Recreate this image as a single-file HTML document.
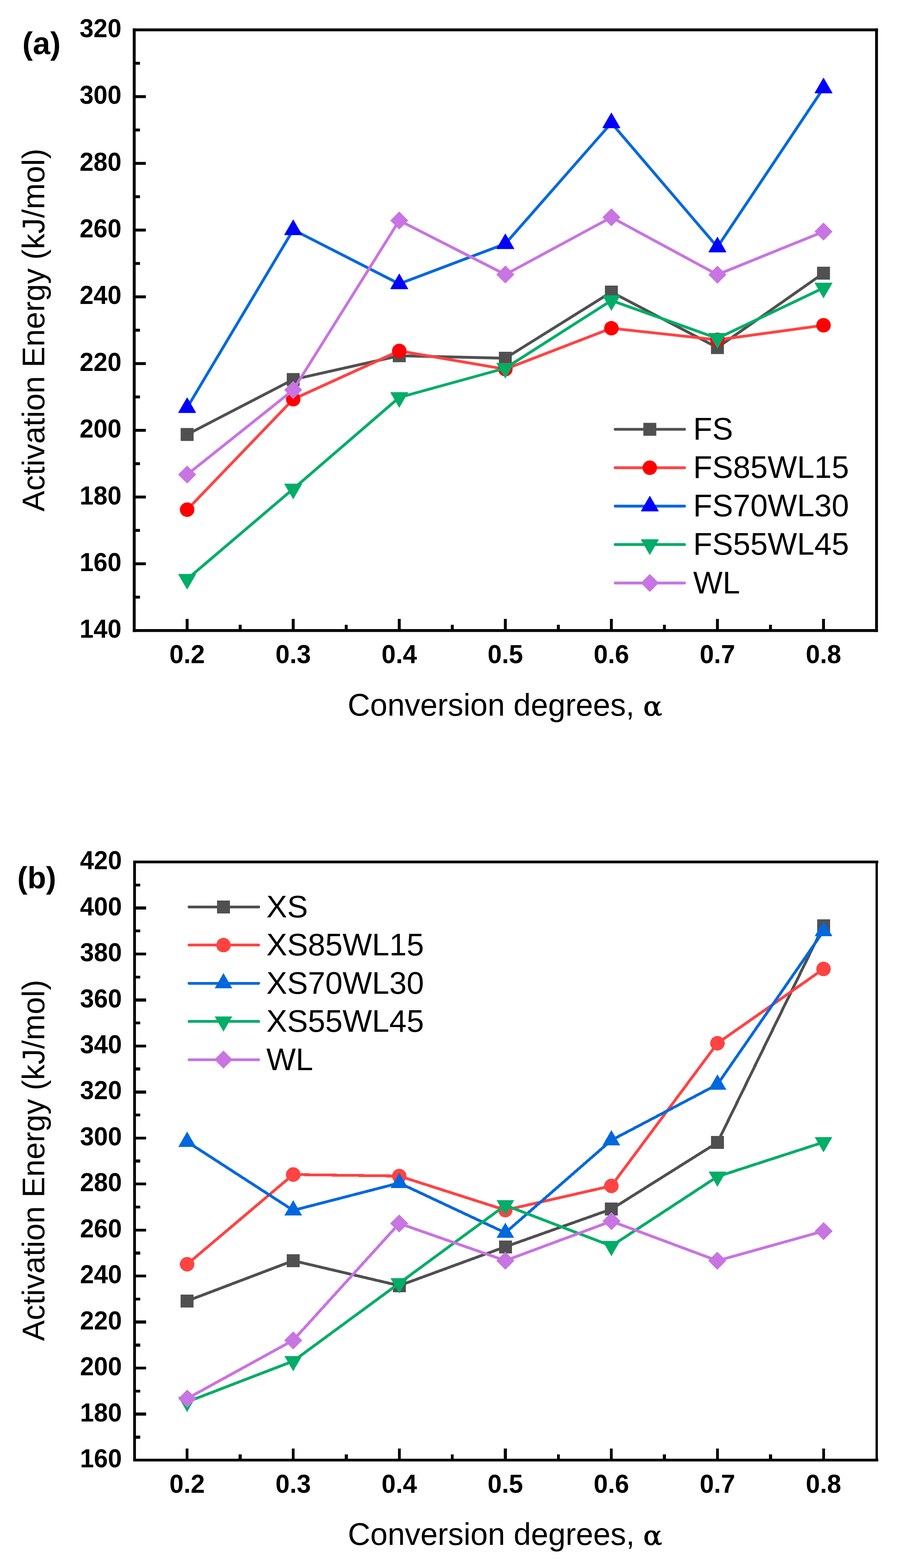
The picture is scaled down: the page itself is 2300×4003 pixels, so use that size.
<!DOCTYPE html>
<html><head><meta charset="utf-8"><title>Activation Energy</title>
<style>html,body{margin:0;padding:0;background:#fff;} svg{display:block;}</style>
</head><body>
<svg width="2300" height="4003" viewBox="0 0 2300 4003">
<rect width="2300" height="4003" fill="#fff"/>
<g><g>
<polyline points="477.7,1109.2 748.5,968.9 1019.2,908.2 1290.0,914.5 1560.7,745.6 1831.4,887.4 2102.2,697.4" fill="none" stroke="#505050" stroke-width="7.2" stroke-linejoin="round" stroke-linecap="round"/>
<rect x="461.2" y="1092.7" width="33" height="33" fill="#505050"/>
<rect x="732.0" y="952.4" width="33" height="33" fill="#505050"/>
<rect x="1002.7" y="891.7" width="33" height="33" fill="#505050"/>
<rect x="1273.5" y="898.0" width="33" height="33" fill="#505050"/>
<rect x="1544.2" y="729.1" width="33" height="33" fill="#505050"/>
<rect x="1814.9" y="870.9" width="33" height="33" fill="#505050"/>
<rect x="2085.7" y="680.9" width="33" height="33" fill="#505050"/>
<polyline points="477.7,1301.2 748.5,1019.2 1019.2,895.9 1290.0,942.4 1560.7,838.0 1831.4,867.6 2102.2,830.4" fill="none" stroke="#FF4343" stroke-width="7.2" stroke-linejoin="round" stroke-linecap="round"/>
<circle cx="477.7" cy="1301.2" r="18.5" fill="#FF0000"/>
<circle cx="748.5" cy="1019.2" r="18.5" fill="#FF0000"/>
<circle cx="1019.2" cy="895.9" r="18.5" fill="#FF0000"/>
<circle cx="1290.0" cy="942.4" r="18.5" fill="#FF0000"/>
<circle cx="1560.7" cy="838.0" r="18.5" fill="#FF0000"/>
<circle cx="1831.4" cy="867.6" r="18.5" fill="#FF0000"/>
<circle cx="2102.2" cy="830.4" r="18.5" fill="#FF0000"/>
<polyline points="477.7,1040.9 748.5,586.7 1019.2,724.7 1290.0,622.4 1560.7,313.8 1831.4,630.7 2102.2,224.8" fill="none" stroke="#0068DE" stroke-width="7.2" stroke-linejoin="round" stroke-linecap="round"/>
<polygon points="477.7,1015.6 499.7,1053.6 455.7,1053.6" fill="#0000FF" stroke="#0000FF" stroke-width="1.5" stroke-linejoin="round"/>
<polygon points="748.5,561.4 770.5,599.4 726.5,599.4" fill="#0000FF" stroke="#0000FF" stroke-width="1.5" stroke-linejoin="round"/>
<polygon points="1019.2,699.4 1041.2,737.4 997.2,737.4" fill="#0000FF" stroke="#0000FF" stroke-width="1.5" stroke-linejoin="round"/>
<polygon points="1290.0,597.1 1312.0,635.1 1268.0,635.1" fill="#0000FF" stroke="#0000FF" stroke-width="1.5" stroke-linejoin="round"/>
<polygon points="1560.7,288.5 1582.7,326.5 1538.7,326.5" fill="#0000FF" stroke="#0000FF" stroke-width="1.5" stroke-linejoin="round"/>
<polygon points="1831.4,605.4 1853.4,643.4 1809.4,643.4" fill="#0000FF" stroke="#0000FF" stroke-width="1.5" stroke-linejoin="round"/>
<polygon points="2102.2,199.5 2124.2,237.5 2080.2,237.5" fill="#0000FF" stroke="#0000FF" stroke-width="1.5" stroke-linejoin="round"/>
<polyline points="477.7,1478.6 748.5,1248.1 1019.2,1014.6 1290.0,939.9 1560.7,767.1 1831.4,863.8 2102.2,735.1" fill="none" stroke="#00AD68" stroke-width="7.2" stroke-linejoin="round" stroke-linecap="round"/>
<polygon points="477.7,1503.9 499.7,1465.9 455.7,1465.9" fill="#00AD68" stroke="#00AD68" stroke-width="1.5" stroke-linejoin="round"/>
<polygon points="748.5,1273.4 770.5,1235.4 726.5,1235.4" fill="#00AD68" stroke="#00AD68" stroke-width="1.5" stroke-linejoin="round"/>
<polygon points="1019.2,1039.9 1041.2,1001.9 997.2,1001.9" fill="#00AD68" stroke="#00AD68" stroke-width="1.5" stroke-linejoin="round"/>
<polygon points="1290.0,965.2 1312.0,927.2 1268.0,927.2" fill="#00AD68" stroke="#00AD68" stroke-width="1.5" stroke-linejoin="round"/>
<polygon points="1560.7,792.4 1582.7,754.4 1538.7,754.4" fill="#00AD68" stroke="#00AD68" stroke-width="1.5" stroke-linejoin="round"/>
<polygon points="1831.4,889.1 1853.4,851.1 1809.4,851.1" fill="#00AD68" stroke="#00AD68" stroke-width="1.5" stroke-linejoin="round"/>
<polygon points="2102.2,760.4 2124.2,722.4 2080.2,722.4" fill="#00AD68" stroke="#00AD68" stroke-width="1.5" stroke-linejoin="round"/>
<polyline points="477.7,1211.5 748.5,995.6 1019.2,562.9 1290.0,700.8 1560.7,554.8 1831.4,701.2 2102.2,591.3" fill="none" stroke="#C874E2" stroke-width="7.2" stroke-linejoin="round" stroke-linecap="round"/>
<polygon points="477.7,1188.5 500.7,1211.5 477.7,1234.5 454.7,1211.5" fill="#C874E2"/>
<polygon points="748.5,972.6 771.5,995.6 748.5,1018.6 725.5,995.6" fill="#C874E2"/>
<polygon points="1019.2,539.9 1042.2,562.9 1019.2,585.9 996.2,562.9" fill="#C874E2"/>
<polygon points="1290.0,677.8 1313.0,700.8 1290.0,723.8 1267.0,700.8" fill="#C874E2"/>
<polygon points="1560.7,531.8 1583.7,554.8 1560.7,577.8 1537.7,554.8" fill="#C874E2"/>
<polygon points="1831.4,678.2 1854.4,701.2 1831.4,724.2 1808.4,701.2" fill="#C874E2"/>
<polygon points="2102.2,568.3 2125.2,591.3 2102.2,614.3 2079.2,591.3" fill="#C874E2"/>
</g>
<g fill="#000">
<rect x="338.9" y="72.6" width="7.4" height="1540.8"/>
<rect x="2233.9" y="72.6" width="7.3" height="1540.8"/>
<rect x="338.9" y="72.6" width="1902.3" height="7.3"/>
<rect x="338.9" y="1606.0" width="1902.3" height="7.4"/>
</g>
<g>
<text transform="translate(310,1628.3) scale(0.955,1)" text-anchor="end" font-family="'Liberation Sans', Arial, sans-serif" font-weight="bold" font-size="67">140</text>
<line x1="342.6" y1="1524.5" x2="357.3" y2="1524.5" stroke="#000" stroke-width="7.4"/>
<line x1="342.6" y1="1439.3" x2="372.3" y2="1439.3" stroke="#000" stroke-width="7.4"/>
<text transform="translate(310,1457.9) scale(0.955,1)" text-anchor="end" font-family="'Liberation Sans', Arial, sans-serif" font-weight="bold" font-size="67">160</text>
<line x1="342.6" y1="1354.1" x2="357.3" y2="1354.1" stroke="#000" stroke-width="7.4"/>
<line x1="342.6" y1="1268.9" x2="372.3" y2="1268.9" stroke="#000" stroke-width="7.4"/>
<text transform="translate(310,1287.5) scale(0.955,1)" text-anchor="end" font-family="'Liberation Sans', Arial, sans-serif" font-weight="bold" font-size="67">180</text>
<line x1="342.6" y1="1183.8" x2="357.3" y2="1183.8" stroke="#000" stroke-width="7.4"/>
<line x1="342.6" y1="1098.6" x2="372.3" y2="1098.6" stroke="#000" stroke-width="7.4"/>
<text transform="translate(310,1117.2) scale(0.955,1)" text-anchor="end" font-family="'Liberation Sans', Arial, sans-serif" font-weight="bold" font-size="67">200</text>
<line x1="342.6" y1="1013.4" x2="357.3" y2="1013.4" stroke="#000" stroke-width="7.4"/>
<line x1="342.6" y1="928.2" x2="372.3" y2="928.2" stroke="#000" stroke-width="7.4"/>
<text transform="translate(310,946.8) scale(0.955,1)" text-anchor="end" font-family="'Liberation Sans', Arial, sans-serif" font-weight="bold" font-size="67">220</text>
<line x1="342.6" y1="843.0" x2="357.3" y2="843.0" stroke="#000" stroke-width="7.4"/>
<line x1="342.6" y1="757.8" x2="372.3" y2="757.8" stroke="#000" stroke-width="7.4"/>
<text transform="translate(310,776.4) scale(0.955,1)" text-anchor="end" font-family="'Liberation Sans', Arial, sans-serif" font-weight="bold" font-size="67">240</text>
<line x1="342.6" y1="672.6" x2="357.3" y2="672.6" stroke="#000" stroke-width="7.4"/>
<line x1="342.6" y1="587.4" x2="372.3" y2="587.4" stroke="#000" stroke-width="7.4"/>
<text transform="translate(310,606.0) scale(0.955,1)" text-anchor="end" font-family="'Liberation Sans', Arial, sans-serif" font-weight="bold" font-size="67">260</text>
<line x1="342.6" y1="502.2" x2="357.3" y2="502.2" stroke="#000" stroke-width="7.4"/>
<line x1="342.6" y1="417.1" x2="372.3" y2="417.1" stroke="#000" stroke-width="7.4"/>
<text transform="translate(310,435.7) scale(0.955,1)" text-anchor="end" font-family="'Liberation Sans', Arial, sans-serif" font-weight="bold" font-size="67">280</text>
<line x1="342.6" y1="331.9" x2="357.3" y2="331.9" stroke="#000" stroke-width="7.4"/>
<line x1="342.6" y1="246.7" x2="372.3" y2="246.7" stroke="#000" stroke-width="7.4"/>
<text transform="translate(310,265.3) scale(0.955,1)" text-anchor="end" font-family="'Liberation Sans', Arial, sans-serif" font-weight="bold" font-size="67">300</text>
<line x1="342.6" y1="161.5" x2="357.3" y2="161.5" stroke="#000" stroke-width="7.4"/>
<text transform="translate(310,94.9) scale(0.955,1)" text-anchor="end" font-family="'Liberation Sans', Arial, sans-serif" font-weight="bold" font-size="67">320</text>
<line x1="477.7" y1="1609.7" x2="477.7" y2="1580.0" stroke="#000" stroke-width="7.4"/>
<text transform="translate(477.7,1692.7) scale(0.97,1)" text-anchor="middle" font-family="'Liberation Sans', Arial, sans-serif" font-weight="bold" font-size="67">0.2</text>
<line x1="748.5" y1="1609.7" x2="748.5" y2="1580.0" stroke="#000" stroke-width="7.4"/>
<text transform="translate(748.5,1692.7) scale(0.97,1)" text-anchor="middle" font-family="'Liberation Sans', Arial, sans-serif" font-weight="bold" font-size="67">0.3</text>
<line x1="1019.2" y1="1609.7" x2="1019.2" y2="1580.0" stroke="#000" stroke-width="7.4"/>
<text transform="translate(1019.2,1692.7) scale(0.97,1)" text-anchor="middle" font-family="'Liberation Sans', Arial, sans-serif" font-weight="bold" font-size="67">0.4</text>
<line x1="1290.0" y1="1609.7" x2="1290.0" y2="1580.0" stroke="#000" stroke-width="7.4"/>
<text transform="translate(1290.0,1692.7) scale(0.97,1)" text-anchor="middle" font-family="'Liberation Sans', Arial, sans-serif" font-weight="bold" font-size="67">0.5</text>
<line x1="1560.7" y1="1609.7" x2="1560.7" y2="1580.0" stroke="#000" stroke-width="7.4"/>
<text transform="translate(1560.7,1692.7) scale(0.97,1)" text-anchor="middle" font-family="'Liberation Sans', Arial, sans-serif" font-weight="bold" font-size="67">0.6</text>
<line x1="1831.4" y1="1609.7" x2="1831.4" y2="1580.0" stroke="#000" stroke-width="7.4"/>
<text transform="translate(1831.4,1692.7) scale(0.97,1)" text-anchor="middle" font-family="'Liberation Sans', Arial, sans-serif" font-weight="bold" font-size="67">0.7</text>
<line x1="2102.2" y1="1609.7" x2="2102.2" y2="1580.0" stroke="#000" stroke-width="7.4"/>
<text transform="translate(2102.2,1692.7) scale(0.97,1)" text-anchor="middle" font-family="'Liberation Sans', Arial, sans-serif" font-weight="bold" font-size="67">0.8</text>
<line x1="613.1" y1="1609.7" x2="613.1" y2="1595.0" stroke="#000" stroke-width="7.4"/>
<line x1="883.8" y1="1609.7" x2="883.8" y2="1595.0" stroke="#000" stroke-width="7.4"/>
<line x1="1154.6" y1="1609.7" x2="1154.6" y2="1595.0" stroke="#000" stroke-width="7.4"/>
<line x1="1425.3" y1="1609.7" x2="1425.3" y2="1595.0" stroke="#000" stroke-width="7.4"/>
<line x1="1696.1" y1="1609.7" x2="1696.1" y2="1595.0" stroke="#000" stroke-width="7.4"/>
<line x1="1966.8" y1="1609.7" x2="1966.8" y2="1595.0" stroke="#000" stroke-width="7.4"/>
</g>
<text transform="translate(112.9,842.6) rotate(-90)" text-anchor="middle" font-family="'Liberation Sans', Arial, sans-serif" font-size="79.8">Activation Energy (kJ/mol)</text>
<text x="887.5" y="1827.3" font-family="'Liberation Sans', Arial, sans-serif" font-size="79.35">Conversion degrees,</text>
<text transform="translate(1642,1827.3) scale(1.06,1)" font-family="'DejaVu Serif', 'Liberation Serif', serif" font-size="67.5" stroke="#000" stroke-width="1.3">&#945;</text>
<text x="57" y="138" font-family="'Liberation Sans', Arial, sans-serif" font-weight="bold" font-size="80">(a)</text>
<g>
<line x1="1570.4" y1="1096.0" x2="1747.4" y2="1096.0" stroke="#505050" stroke-width="7.2" stroke-linecap="round"/>
<rect x="1642.3" y="1079.5" width="33" height="33" fill="#505050"/>
</g>
<text x="1769.6" y="1122.2" font-family="'Liberation Sans', Arial, sans-serif" font-size="79.5">FS</text>
<g>
<line x1="1570.4" y1="1194.1" x2="1747.4" y2="1194.1" stroke="#FF4343" stroke-width="7.2" stroke-linecap="round"/>
<circle cx="1658.8" cy="1194.1" r="18.5" fill="#FF0000"/>
</g>
<text x="1769.6" y="1220.3" font-family="'Liberation Sans', Arial, sans-serif" font-size="79.5">FS85WL15</text>
<g>
<line x1="1570.4" y1="1292.1" x2="1747.4" y2="1292.1" stroke="#0068DE" stroke-width="7.2" stroke-linecap="round"/>
<polygon points="1658.8,1266.8 1680.8,1304.8 1636.8,1304.8" fill="#0000FF" stroke="#0000FF" stroke-width="1.5" stroke-linejoin="round"/>
</g>
<text x="1769.6" y="1318.3" font-family="'Liberation Sans', Arial, sans-serif" font-size="79.5">FS70WL30</text>
<g>
<line x1="1570.4" y1="1390.2" x2="1747.4" y2="1390.2" stroke="#00AD68" stroke-width="7.2" stroke-linecap="round"/>
<polygon points="1658.8,1415.5 1680.8,1377.5 1636.8,1377.5" fill="#00AD68" stroke="#00AD68" stroke-width="1.5" stroke-linejoin="round"/>
</g>
<text x="1769.6" y="1416.4" font-family="'Liberation Sans', Arial, sans-serif" font-size="79.5">FS55WL45</text>
<g>
<line x1="1570.4" y1="1488.3" x2="1747.4" y2="1488.3" stroke="#C874E2" stroke-width="7.2" stroke-linecap="round"/>
<polygon points="1658.8,1465.3 1681.8,1488.3 1658.8,1511.3 1635.8,1488.3" fill="#C874E2"/>
</g>
<text x="1769.6" y="1514.5" font-family="'Liberation Sans', Arial, sans-serif" font-size="79.5">WL</text></g>
<g><g shape-rendering="crispEdges">
<polyline points="477.7,3321.2 748.5,3218.4 1019.2,3282.1 1290.0,3183.0 1560.7,3086.9 1831.4,2916.9 2102.2,2363.5" fill="none" stroke="#505050" stroke-width="7.2" stroke-linejoin="round" stroke-linecap="round"/>
<rect x="461.2" y="3304.8" width="33" height="33" fill="#505050"/>
<rect x="732.0" y="3201.9" width="33" height="33" fill="#505050"/>
<rect x="1002.7" y="3265.6" width="33" height="33" fill="#505050"/>
<rect x="1273.5" y="3166.5" width="33" height="33" fill="#505050"/>
<rect x="1544.2" y="3070.4" width="33" height="33" fill="#505050"/>
<rect x="1814.9" y="2900.4" width="33" height="33" fill="#505050"/>
<rect x="2085.7" y="2347.0" width="33" height="33" fill="#505050"/>
<polyline points="477.7,3227.5 748.5,2998.5 1019.2,3002.4 1290.0,3089.3 1560.7,3027.5 1831.4,2663.4 2102.2,2473.7" fill="none" stroke="#FF4343" stroke-width="7.2" stroke-linejoin="round" stroke-linecap="round"/>
<circle cx="477.7" cy="3227.5" r="18.5" fill="#FF4343"/>
<circle cx="748.5" cy="2998.5" r="18.5" fill="#FF4343"/>
<circle cx="1019.2" cy="3002.4" r="18.5" fill="#FF4343"/>
<circle cx="1290.0" cy="3089.3" r="18.5" fill="#FF4343"/>
<circle cx="1560.7" cy="3027.5" r="18.5" fill="#FF4343"/>
<circle cx="1831.4" cy="2663.4" r="18.5" fill="#FF4343"/>
<circle cx="2102.2" cy="2473.7" r="18.5" fill="#FF4343"/>
<polyline points="477.7,2914.8 748.5,3090.0 1019.2,3020.1 1290.0,3147.2 1560.7,2910.9 1831.4,2768.6 2102.2,2377.0" fill="none" stroke="#0068DE" stroke-width="7.2" stroke-linejoin="round" stroke-linecap="round"/>
<polygon points="477.7,2888.8 500.2,2927.8 455.2,2927.8" fill="#0068DE"/>
<polygon points="748.5,3064.0 771.0,3103.0 726.0,3103.0" fill="#0068DE"/>
<polygon points="1019.2,2994.1 1041.7,3033.1 996.7,3033.1" fill="#0068DE"/>
<polygon points="1290.0,3121.2 1312.5,3160.2 1267.5,3160.2" fill="#0068DE"/>
<polygon points="1560.7,2884.9 1583.2,2923.9 1538.2,2923.9" fill="#0068DE"/>
<polygon points="1831.4,2742.6 1853.9,2781.6 1808.9,2781.6" fill="#0068DE"/>
<polygon points="2102.2,2351.0 2124.7,2390.0 2079.7,2390.0" fill="#0068DE"/>
<polyline points="477.7,3579.0 748.5,3474.9 1019.2,3275.9 1290.0,3077.0 1560.7,3181.0 1831.4,3003.8 2102.2,2916.0" fill="none" stroke="#00AD68" stroke-width="7.2" stroke-linejoin="round" stroke-linecap="round"/>
<polygon points="477.7,3605.0 500.2,3566.0 455.2,3566.0" fill="#00AD68"/>
<polygon points="748.5,3500.9 771.0,3461.9 726.0,3461.9" fill="#00AD68"/>
<polygon points="1019.2,3301.9 1041.7,3262.9 996.7,3262.9" fill="#00AD68"/>
<polygon points="1290.0,3103.0 1312.5,3064.0 1267.5,3064.0" fill="#00AD68"/>
<polygon points="1560.7,3207.0 1583.2,3168.0 1538.2,3168.0" fill="#00AD68"/>
<polygon points="1831.4,3029.8 1853.9,2990.8 1808.9,2990.8" fill="#00AD68"/>
<polygon points="2102.2,2942.0 2124.7,2903.0 2079.7,2903.0" fill="#00AD68"/>
<polyline points="477.7,3570.4 748.5,3421.6 1019.2,3123.3 1290.0,3218.3 1560.7,3117.7 1831.4,3218.6 2102.2,3142.9" fill="none" stroke="#C874E2" stroke-width="7.2" stroke-linejoin="round" stroke-linecap="round"/>
<polygon points="477.7,3547.4 500.7,3570.4 477.7,3593.4 454.7,3570.4" fill="#C874E2"/>
<polygon points="748.5,3398.6 771.5,3421.6 748.5,3444.6 725.5,3421.6" fill="#C874E2"/>
<polygon points="1019.2,3100.3 1042.2,3123.3 1019.2,3146.3 996.2,3123.3" fill="#C874E2"/>
<polygon points="1290.0,3195.3 1313.0,3218.3 1290.0,3241.3 1267.0,3218.3" fill="#C874E2"/>
<polygon points="1560.7,3094.7 1583.7,3117.7 1560.7,3140.7 1537.7,3117.7" fill="#C874E2"/>
<polygon points="1831.4,3195.6 1854.4,3218.6 1831.4,3241.6 1808.4,3218.6" fill="#C874E2"/>
<polygon points="2102.2,3119.9 2125.2,3142.9 2102.2,3165.9 2079.2,3142.9" fill="#C874E2"/>
</g>
<g fill="#000" shape-rendering="crispEdges">
<rect x="339.8" y="2197.0" width="7.2" height="1533.9"/>
<rect x="2235.0" y="2197.0" width="5.9" height="1533.9"/>
<rect x="339.8" y="2197.0" width="1902.2" height="7.0"/>
<rect x="339.8" y="3724.1" width="1902.2" height="6.8"/>
</g>
<g shape-rendering="crispEdges">
<text transform="translate(311,3746.1) scale(0.955,1)" text-anchor="end" font-family="'Liberation Sans', Arial, sans-serif" font-weight="bold" font-size="67">160</text>
<line x1="343.4" y1="3668.8" x2="358.1" y2="3668.8" stroke="#000" stroke-width="7.4"/>
<line x1="343.4" y1="3610.0" x2="373.1" y2="3610.0" stroke="#000" stroke-width="7.4"/>
<text transform="translate(311,3628.6) scale(0.955,1)" text-anchor="end" font-family="'Liberation Sans', Arial, sans-serif" font-weight="bold" font-size="67">180</text>
<line x1="343.4" y1="3551.3" x2="358.1" y2="3551.3" stroke="#000" stroke-width="7.4"/>
<line x1="343.4" y1="3492.6" x2="373.1" y2="3492.6" stroke="#000" stroke-width="7.4"/>
<text transform="translate(311,3511.2) scale(0.955,1)" text-anchor="end" font-family="'Liberation Sans', Arial, sans-serif" font-weight="bold" font-size="67">200</text>
<line x1="343.4" y1="3433.8" x2="358.1" y2="3433.8" stroke="#000" stroke-width="7.4"/>
<line x1="343.4" y1="3375.1" x2="373.1" y2="3375.1" stroke="#000" stroke-width="7.4"/>
<text transform="translate(311,3393.7) scale(0.955,1)" text-anchor="end" font-family="'Liberation Sans', Arial, sans-serif" font-weight="bold" font-size="67">220</text>
<line x1="343.4" y1="3316.4" x2="358.1" y2="3316.4" stroke="#000" stroke-width="7.4"/>
<line x1="343.4" y1="3257.7" x2="373.1" y2="3257.7" stroke="#000" stroke-width="7.4"/>
<text transform="translate(311,3276.3) scale(0.955,1)" text-anchor="end" font-family="'Liberation Sans', Arial, sans-serif" font-weight="bold" font-size="67">240</text>
<line x1="343.4" y1="3198.9" x2="358.1" y2="3198.9" stroke="#000" stroke-width="7.4"/>
<line x1="343.4" y1="3140.2" x2="373.1" y2="3140.2" stroke="#000" stroke-width="7.4"/>
<text transform="translate(311,3158.8) scale(0.955,1)" text-anchor="end" font-family="'Liberation Sans', Arial, sans-serif" font-weight="bold" font-size="67">260</text>
<line x1="343.4" y1="3081.5" x2="358.1" y2="3081.5" stroke="#000" stroke-width="7.4"/>
<line x1="343.4" y1="3022.7" x2="373.1" y2="3022.7" stroke="#000" stroke-width="7.4"/>
<text transform="translate(311,3041.3) scale(0.955,1)" text-anchor="end" font-family="'Liberation Sans', Arial, sans-serif" font-weight="bold" font-size="67">280</text>
<line x1="343.4" y1="2964.0" x2="358.1" y2="2964.0" stroke="#000" stroke-width="7.4"/>
<line x1="343.4" y1="2905.3" x2="373.1" y2="2905.3" stroke="#000" stroke-width="7.4"/>
<text transform="translate(311,2923.9) scale(0.955,1)" text-anchor="end" font-family="'Liberation Sans', Arial, sans-serif" font-weight="bold" font-size="67">300</text>
<line x1="343.4" y1="2846.5" x2="358.1" y2="2846.5" stroke="#000" stroke-width="7.4"/>
<line x1="343.4" y1="2787.8" x2="373.1" y2="2787.8" stroke="#000" stroke-width="7.4"/>
<text transform="translate(311,2806.4) scale(0.955,1)" text-anchor="end" font-family="'Liberation Sans', Arial, sans-serif" font-weight="bold" font-size="67">320</text>
<line x1="343.4" y1="2729.1" x2="358.1" y2="2729.1" stroke="#000" stroke-width="7.4"/>
<line x1="343.4" y1="2670.3" x2="373.1" y2="2670.3" stroke="#000" stroke-width="7.4"/>
<text transform="translate(311,2688.9) scale(0.955,1)" text-anchor="end" font-family="'Liberation Sans', Arial, sans-serif" font-weight="bold" font-size="67">340</text>
<line x1="343.4" y1="2611.6" x2="358.1" y2="2611.6" stroke="#000" stroke-width="7.4"/>
<line x1="343.4" y1="2552.9" x2="373.1" y2="2552.9" stroke="#000" stroke-width="7.4"/>
<text transform="translate(311,2571.5) scale(0.955,1)" text-anchor="end" font-family="'Liberation Sans', Arial, sans-serif" font-weight="bold" font-size="67">360</text>
<line x1="343.4" y1="2494.2" x2="358.1" y2="2494.2" stroke="#000" stroke-width="7.4"/>
<line x1="343.4" y1="2435.4" x2="373.1" y2="2435.4" stroke="#000" stroke-width="7.4"/>
<text transform="translate(311,2454.0) scale(0.955,1)" text-anchor="end" font-family="'Liberation Sans', Arial, sans-serif" font-weight="bold" font-size="67">380</text>
<line x1="343.4" y1="2376.7" x2="358.1" y2="2376.7" stroke="#000" stroke-width="7.4"/>
<line x1="343.4" y1="2318.0" x2="373.1" y2="2318.0" stroke="#000" stroke-width="7.4"/>
<text transform="translate(311,2336.6) scale(0.955,1)" text-anchor="end" font-family="'Liberation Sans', Arial, sans-serif" font-weight="bold" font-size="67">400</text>
<line x1="343.4" y1="2259.2" x2="358.1" y2="2259.2" stroke="#000" stroke-width="7.4"/>
<text transform="translate(311,2219.1) scale(0.955,1)" text-anchor="end" font-family="'Liberation Sans', Arial, sans-serif" font-weight="bold" font-size="67">420</text>
<line x1="477.7" y1="3727.5" x2="477.7" y2="3697.8" stroke="#000" stroke-width="7.4"/>
<text transform="translate(477.7,3810.5) scale(0.97,1)" text-anchor="middle" font-family="'Liberation Sans', Arial, sans-serif" font-weight="bold" font-size="67">0.2</text>
<line x1="748.5" y1="3727.5" x2="748.5" y2="3697.8" stroke="#000" stroke-width="7.4"/>
<text transform="translate(748.5,3810.5) scale(0.97,1)" text-anchor="middle" font-family="'Liberation Sans', Arial, sans-serif" font-weight="bold" font-size="67">0.3</text>
<line x1="1019.2" y1="3727.5" x2="1019.2" y2="3697.8" stroke="#000" stroke-width="7.4"/>
<text transform="translate(1019.2,3810.5) scale(0.97,1)" text-anchor="middle" font-family="'Liberation Sans', Arial, sans-serif" font-weight="bold" font-size="67">0.4</text>
<line x1="1290.0" y1="3727.5" x2="1290.0" y2="3697.8" stroke="#000" stroke-width="7.4"/>
<text transform="translate(1290.0,3810.5) scale(0.97,1)" text-anchor="middle" font-family="'Liberation Sans', Arial, sans-serif" font-weight="bold" font-size="67">0.5</text>
<line x1="1560.7" y1="3727.5" x2="1560.7" y2="3697.8" stroke="#000" stroke-width="7.4"/>
<text transform="translate(1560.7,3810.5) scale(0.97,1)" text-anchor="middle" font-family="'Liberation Sans', Arial, sans-serif" font-weight="bold" font-size="67">0.6</text>
<line x1="1831.4" y1="3727.5" x2="1831.4" y2="3697.8" stroke="#000" stroke-width="7.4"/>
<text transform="translate(1831.4,3810.5) scale(0.97,1)" text-anchor="middle" font-family="'Liberation Sans', Arial, sans-serif" font-weight="bold" font-size="67">0.7</text>
<line x1="2102.2" y1="3727.5" x2="2102.2" y2="3697.8" stroke="#000" stroke-width="7.4"/>
<text transform="translate(2102.2,3810.5) scale(0.97,1)" text-anchor="middle" font-family="'Liberation Sans', Arial, sans-serif" font-weight="bold" font-size="67">0.8</text>
<line x1="613.1" y1="3727.5" x2="613.1" y2="3712.8" stroke="#000" stroke-width="7.4"/>
<line x1="883.8" y1="3727.5" x2="883.8" y2="3712.8" stroke="#000" stroke-width="7.4"/>
<line x1="1154.6" y1="3727.5" x2="1154.6" y2="3712.8" stroke="#000" stroke-width="7.4"/>
<line x1="1425.3" y1="3727.5" x2="1425.3" y2="3712.8" stroke="#000" stroke-width="7.4"/>
<line x1="1696.1" y1="3727.5" x2="1696.1" y2="3712.8" stroke="#000" stroke-width="7.4"/>
<line x1="1966.8" y1="3727.5" x2="1966.8" y2="3712.8" stroke="#000" stroke-width="7.4"/>
</g>
<text transform="translate(112.9,2962.4) rotate(-90)" text-anchor="middle" font-family="'Liberation Sans', Arial, sans-serif" font-size="79.4">Activation Energy (kJ/mol)</text>
<text x="888" y="3944.3" font-family="'Liberation Sans', Arial, sans-serif" font-size="79.35">Conversion degrees,</text>
<text transform="translate(1642,3944.3) scale(1.06,1)" font-family="'DejaVu Serif', 'Liberation Serif', serif" font-size="67.5" stroke="#000" stroke-width="1.3">&#945;</text>
<text x="44" y="2267.5" font-family="'Liberation Sans', Arial, sans-serif" font-weight="bold" font-size="78">(b)</text>
<g shape-rendering="crispEdges">
<line x1="482.9" y1="2315.3" x2="660.1" y2="2315.3" stroke="#505050" stroke-width="7.2" stroke-linecap="round"/>
<rect x="554.0" y="2298.8" width="33" height="33" fill="#505050"/>
</g>
<text x="680" y="2341.7" font-family="'Liberation Sans', Arial, sans-serif" font-size="79.5">XS</text>
<g shape-rendering="crispEdges">
<line x1="482.9" y1="2412.8" x2="660.1" y2="2412.8" stroke="#FF4343" stroke-width="7.2" stroke-linecap="round"/>
<circle cx="570.5" cy="2412.8" r="18.5" fill="#FF4343"/>
</g>
<text x="680" y="2439.2" font-family="'Liberation Sans', Arial, sans-serif" font-size="79.5">XS85WL15</text>
<g shape-rendering="crispEdges">
<line x1="482.9" y1="2510.2" x2="660.1" y2="2510.2" stroke="#0068DE" stroke-width="7.2" stroke-linecap="round"/>
<polygon points="570.5,2484.2 593.0,2523.2 548.0,2523.2" fill="#0068DE"/>
</g>
<text x="680" y="2536.6" font-family="'Liberation Sans', Arial, sans-serif" font-size="79.5">XS70WL30</text>
<g shape-rendering="crispEdges">
<line x1="482.9" y1="2607.7" x2="660.1" y2="2607.7" stroke="#00AD68" stroke-width="7.2" stroke-linecap="round"/>
<polygon points="570.5,2633.7 593.0,2594.7 548.0,2594.7" fill="#00AD68"/>
</g>
<text x="680" y="2634.1" font-family="'Liberation Sans', Arial, sans-serif" font-size="79.5">XS55WL45</text>
<g shape-rendering="crispEdges">
<line x1="482.9" y1="2705.2" x2="660.1" y2="2705.2" stroke="#C874E2" stroke-width="7.2" stroke-linecap="round"/>
<polygon points="570.5,2682.2 593.5,2705.2 570.5,2728.2 547.5,2705.2" fill="#C874E2"/>
</g>
<text x="680" y="2731.6" font-family="'Liberation Sans', Arial, sans-serif" font-size="79.5">WL</text></g>
</svg>
</body></html>
